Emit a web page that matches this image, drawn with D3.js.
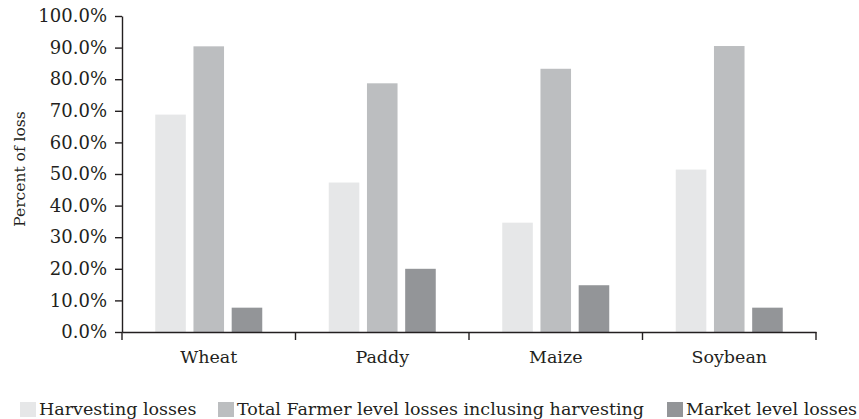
<!DOCTYPE html>
<html>
<head>
<meta charset="utf-8">
<script src="https://cdn.jsdelivr.net/npm/d3@7"></script>
<style>
  html, body { margin: 0; padding: 0; background: #fff; }
  svg text { font-family: "DejaVu Serif", serif; fill: #231f20; }
</style>
</head>
<body>
<svg id="chart" width="859" height="419"></svg>
<script>
const categories = ["Wheat", "Paddy", "Maize", "Soybean"];
const seriesNames = ["Harvesting losses", "Total Farmer level losses inclusing harvesting", "Market level losses"];
const harvesting = [68.8, 47.3, 34.6, 51.4];
const totalFarmer = [90.4, 78.7, 83.3, 90.5];
const market = [7.7, 20.0, 14.8, 7.7];
const yTicks = [0, 10, 20, 30, 40, 50, 60, 70, 80, 90, 100];
const colors = ["#e6e7e8", "#bcbec0", "#939598"];

const seriesValues = [harvesting, totalFarmer, market];
const data = categories.map((c, i) => ({
  cat: c,
  vals: seriesNames.map((s, j) => ({ s, v: seriesValues[j][i] }))
}));

const svg = d3.select("#chart");
const mLeft = 122, mRight = 816, mTop = 16, mBottom = 332;

const x0 = d3.scaleBand().domain(categories).range([mLeft, mRight]).padding(0);
const x1 = d3.scaleBand().domain(seriesNames).range([0, x0.bandwidth()])
  .paddingInner(0.2).paddingOuter(0.87);
const y = d3.scaleLinear().domain([0, 100]).range([mBottom, mTop]);
const color = d3.scaleOrdinal().domain(seriesNames).range(colors);

// bars
const g = svg.append("g");
g.selectAll("g.grp").data(data).join("g")
  .attr("transform", d => `translate(${x0(d.cat)},0)`)
  .selectAll("rect").data(d => d.vals).join("rect")
  .attr("x", d => x1(d.s))
  .attr("width", x1.bandwidth())
  .attr("y", d => y(d.v))
  .attr("height", d => y(0) - y(d.v))
  .attr("fill", d => color(d.s));

// y axis
const yAxis = d3.axisLeft(y).tickValues(yTicks).tickSize(7).tickSizeOuter(0)
  .tickPadding(8).tickFormat(d => d.toFixed(1) + "%");
const ya = svg.append("g").attr("transform", `translate(${mLeft},0)`).call(yAxis);
ya.selectAll("text").style("font-size", "18px");
ya.selectAll("line, path").attr("stroke", "#231f20").attr("stroke-width", 1.4);

// x axis labels
const xAxis = d3.axisBottom(x0).tickSize(0).tickPadding(19);
const xa = svg.append("g").attr("transform", `translate(0,${mBottom})`).call(xAxis);
xa.selectAll("text").style("font-size", "17.5px");
xa.select("path").attr("stroke", "#231f20").attr("stroke-width", 1.4);

// x boundary ticks
const bounds = categories.map(c => x0(c)).concat([x0.range()[1]]);
svg.append("g").selectAll("line").data(bounds).join("line")
  .attr("x1", d => d).attr("x2", d => d)
  .attr("y1", mBottom).attr("y2", mBottom + 8)
  .attr("stroke", "#231f20").attr("stroke-width", 1.4);

// y title
svg.append("text")
  .attr("transform", `translate(25,169) rotate(-90)`)
  .attr("text-anchor", "middle")
  .style("font-size", "15.5px")
  .text("Percent of loss");

// legend
const legendX = [20, 218, 667];
const lg = svg.append("g").selectAll("g").data(seriesNames).join("g")
  .attr("transform", (d, i) => `translate(${legendX[i]},402)`);
lg.append("rect").attr("width", 16).attr("height", 15).attr("fill", d => color(d));
lg.append("text").attr("x", 19).attr("y", 13).style("font-size", "17.5px").text(d => d);
</script>
</body>
</html>
